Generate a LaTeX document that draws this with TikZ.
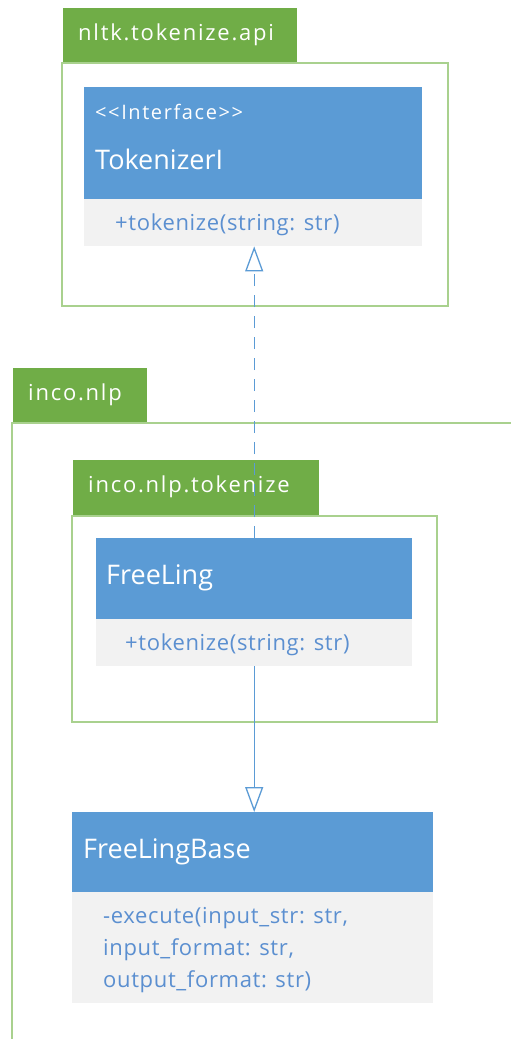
\documentclass[tikz,border=0pt]{standalone}
\usepackage{fontspec}
\setmainfont{Open Sans}
\newfontfamily\tabfont{Open Sans}[LetterSpace=8]
\newfontfamily\opsfont{Open Sans}[LetterSpace=3]
\newfontfamily\namefont{Open Sans}
\usetikzlibrary{arrows.meta}
\definecolor{tabgreen}{HTML}{70AD47}
\definecolor{pkgline}{HTML}{A9D18E}
\definecolor{headblue}{HTML}{5B9BD5}
\definecolor{opsfill}{HTML}{F2F2F2}
\definecolor{opstext}{HTML}{5B8FD0}
\definecolor{linkblue}{HTML}{5B9BD5}
\tikzset{
  tab/.style={fill=tabgreen, draw=none, anchor=north west, inner sep=0pt},
  tablabel/.style={anchor=west, text=white, font=\tabfont\fontsize{22}{26}\selectfont, inner sep=0pt},
  pkg/.style={draw=pkgline, line width=1.6pt, fill=white, anchor=north west, inner sep=0pt},
  head/.style={fill=headblue, draw=none, anchor=north west, inner sep=0pt},
  ops/.style={fill=opsfill, draw=none, anchor=north west, inner sep=0pt},
  classname/.style={anchor=west, text=white, font=\namefont\fontsize{27}{31}\selectfont, inner sep=0pt},
  stereo/.style={anchor=west, text=white, font=\tabfont\fontsize{20}{24}\selectfont, inner sep=0pt},
  optext/.style={anchor=west, text=opstext, font=\opsfont\fontsize{22}{26}\selectfont, inner sep=0pt},
  realize/.style={draw=linkblue, line width=1.3pt, dash pattern=on 12pt off 9pt,
    -{Triangle[open, length=25pt, width=18pt, line width=1.3pt]}},
  inherit/.style={draw=linkblue, line width=1.3pt,
    -{Triangle[open, length=25pt, width=18pt, line width=1.3pt]}},
}
\begin{document}
\begin{tikzpicture}[x=1pt, y=-1pt]
  \path[use as bounding box, fill=white] (0,0) rectangle (511,1039);

  % package nltk.tokenize.api
  \node[tab, minimum width=234pt, minimum height=54pt] (tabapi) at (63,8) {};
  \node[tablabel] (tabapilbl) at (78,35) {nltk.tokenize.api};
  \node[pkg, minimum width=386pt, minimum height=243pt] (pkgapi) at (61,62) {};

  % interface TokenizerI
  \node[head, minimum width=338pt, minimum height=112pt] (tokhead) at (84,87) {};
  \node[stereo] (tokstereo) at (95,112) {{<}{<}Interface{>}{>}};
  \node[classname] (tokname) at (95,159) {TokenizerI};
  \node[ops, minimum width=338pt, minimum height=47pt] (tokops) at (84,199) {};
  \node[optext] (tokop) at (115,225) {+tokenize(string: str)};

  % package inco.nlp (runs past the page edges)
  \node[tab, minimum width=134pt, minimum height=55pt] (tabinco) at (13,368) {};
  \node[tablabel] (tabincolbl) at (28,395) {inco.nlp};
  \draw[draw=pkgline, line width=1.6pt] (512,423) -- (12,423) -- (12,1040);

  % package inco.nlp.tokenize
  \node[tab, minimum width=246pt, minimum height=55pt] (tabtok) at (73,460) {};
  \node[tablabel] (tabtoklbl) at (88,487) {inco.nlp.tokenize};
  \node[pkg, minimum width=365pt, minimum height=206pt] (pkgtok) at (71,515) {};

  % class FreeLing
  \node[head, minimum width=316pt, minimum height=81pt] (flhead) at (96,538) {};
  \node[classname] (flname) at (106,578) {FreeLing};
  \node[ops, minimum width=316pt, minimum height=47pt] (flops) at (96,619) {};
  \node[optext] (flop) at (125,645) {+tokenize(string: str)};

  % class FreeLingBase
  \node[head, minimum width=361pt, minimum height=80pt] (fbhead) at (72,812) {};
  \node[classname] (fbname) at (83,852) {FreeLingBase};
  \node[ops, minimum width=361pt, minimum height=111pt] (fbops) at (72,892) {};
  \node[optext] (fbop1) at (103,918) {-execute(input\_str: str,};
  \node[optext] (fbop2) at (103,950) {input\_format: str,};
  \node[optext] (fbop3) at (103,982) {output\_format: str)};

  % relations
  \draw[realize] (flhead.north) -- (flhead.north |- tokops.south);
  \draw[inherit] (flops.south) -- (flops.south |- fbhead.north);
\end{tikzpicture}
\end{document}
